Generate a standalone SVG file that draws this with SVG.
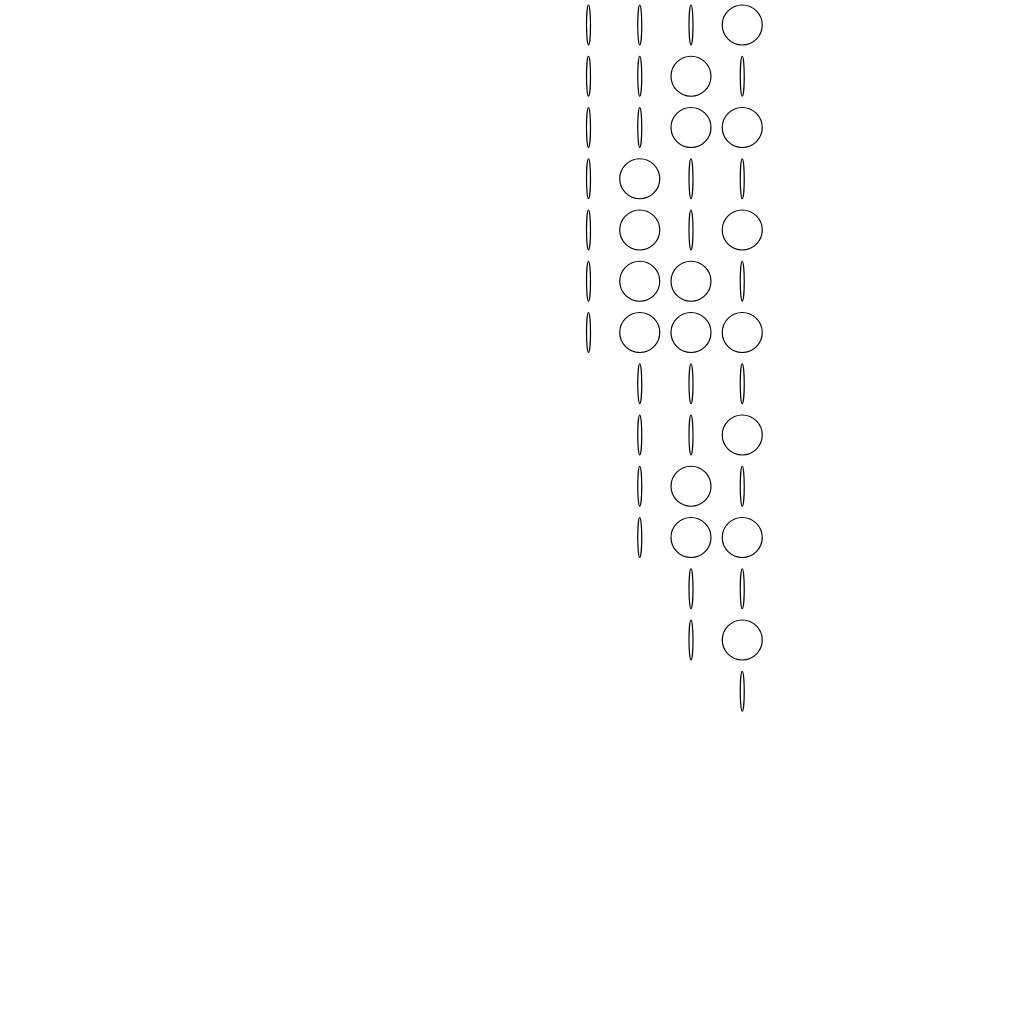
<svg xmlns="http://www.w3.org/2000/svg" width="1024" height="1024" viewBox="0 0 1024 1024">
<style>
.c{fill:none;stroke:#000;stroke-width:1.2}
</style>
<defs>
<circle id="on" class="c" r="20"/>
<ellipse id="off" class="c" rx="2" ry="20"/>
</defs>
<rect width="1024" height="1024" fill="#fff"/>
<g id="row0"><use href="#off" x="588.5" y="25"/><use href="#off" x="639.75" y="25"/><use href="#off" x="691" y="25"/><use href="#on" x="742.25" y="25"/></g>
<g id="row1"><use href="#off" x="588.5" y="76.25"/><use href="#off" x="639.75" y="76.25"/><use href="#on" x="691" y="76.25"/><use href="#off" x="742.25" y="76.25"/></g>
<g id="row2"><use href="#off" x="588.5" y="127.5"/><use href="#off" x="639.75" y="127.5"/><use href="#on" x="691" y="127.5"/><use href="#on" x="742.25" y="127.5"/></g>
<g id="row3"><use href="#off" x="588.5" y="178.75"/><use href="#on" x="639.75" y="178.75"/><use href="#off" x="691" y="178.75"/><use href="#off" x="742.25" y="178.75"/></g>
<g id="row4"><use href="#off" x="588.5" y="230"/><use href="#on" x="639.75" y="230"/><use href="#off" x="691" y="230"/><use href="#on" x="742.25" y="230"/></g>
<g id="row5"><use href="#off" x="588.5" y="281.25"/><use href="#on" x="639.75" y="281.25"/><use href="#on" x="691" y="281.25"/><use href="#off" x="742.25" y="281.25"/></g>
<g id="row6"><use href="#off" x="588.5" y="332.5"/><use href="#on" x="639.75" y="332.5"/><use href="#on" x="691" y="332.5"/><use href="#on" x="742.25" y="332.5"/></g>
<g id="row7"><use href="#off" x="639.75" y="383.75"/><use href="#off" x="691" y="383.75"/><use href="#off" x="742.25" y="383.75"/></g>
<g id="row8"><use href="#off" x="639.75" y="435"/><use href="#off" x="691" y="435"/><use href="#on" x="742.25" y="435"/></g>
<g id="row9"><use href="#off" x="639.75" y="486.25"/><use href="#on" x="691" y="486.25"/><use href="#off" x="742.25" y="486.25"/></g>
<g id="row10"><use href="#off" x="639.75" y="537.5"/><use href="#on" x="691" y="537.5"/><use href="#on" x="742.25" y="537.5"/></g>
<g id="row11"><use href="#off" x="691" y="588.75"/><use href="#off" x="742.25" y="588.75"/></g>
<g id="row12"><use href="#off" x="691" y="640"/><use href="#on" x="742.25" y="640"/></g>
<g id="row13"><use href="#off" x="742.25" y="691.25"/></g>
<g id="connectors"/>
</svg>
